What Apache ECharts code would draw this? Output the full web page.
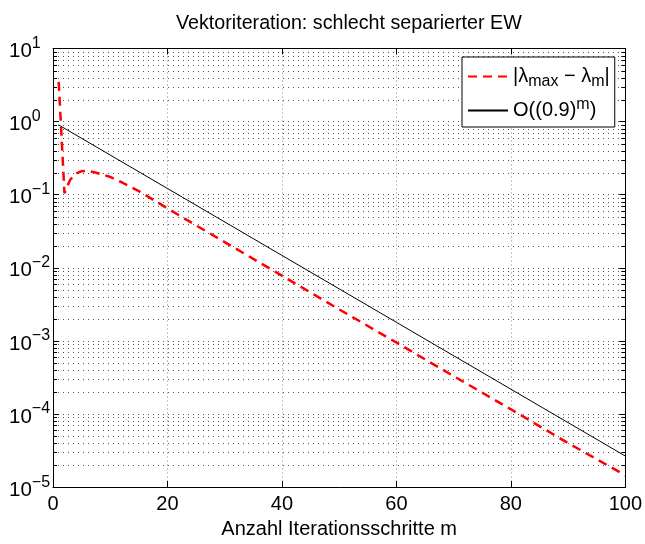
<!DOCTYPE html>
<html>
<head>
<meta charset="utf-8">
<script src="https://cdn.jsdelivr.net/npm/echarts@6/dist/echarts.min.js"></script>
<style>html,body{margin:0;padding:0;background:#fff;}#c{width:645px;height:544px;}</style>
</head>
<body>
<div id="c"></div>
<script>
// ---- data ----
const errM   = [1, 2, 3, 4, 5, 6, 7, 8, 9, 10, 12, 15, 20, 25, 30, 40, 50, 60, 70, 80, 90, 100];
const errVal = [3.5, 0.105, 0.16, 0.195, 0.21, 0.213, 0.205, 0.195, 0.185, 0.175, 0.148, 0.112,
                0.065, 0.038, 0.0225, 0.0078, 0.0027, 0.00095, 0.00033, 0.000116, 0.00004, 0.0000145];
const rateM   = [1, 20, 40, 60, 80, 100];
const rateVal = [0.9, 0.1216, 0.01478, 0.001797, 0.0002185, 0.0000266];
const xTicks = [0, 20, 40, 60, 80, 100];
const yDecades = [-5, -4, -3, -2, -1, 0, 1];
const minorMultipliers = [2, 3, 4, 5, 6, 7, 8, 9];
const seriesNames = ['|λmax − λm|', 'O((0.9)^m)'];

const FONT = 'Liberation Sans, Arial, Helvetica, sans-serif';
const errData = errM.map((m, i) => [m, errVal[i]]);
const rateData = rateM.map((m, i) => [m, rateVal[i]]);
const minorData = [];
yDecades.slice(0, -1).forEach(d => minorMultipliers.forEach(k => minorData.push([0, k * Math.pow(10, d)])));

const chart = echarts.init(document.getElementById('c'), null, {renderer: 'canvas'});

const axisCommonX = {
  type: 'value', min: xTicks[0], max: xTicks[xTicks.length - 1], interval: 20,
  axisLine: {show: true, onZero: false, lineStyle: {color: '#000', width: 1}},
  axisTick: {show: true, inside: true, length: 6, lineStyle: {color: '#000'}}
};
const axisCommonY = {
  type: 'log', logBase: 10, min: 1e-5, max: 10, interval: 1,
  axisLine: {show: true, onZero: false, lineStyle: {color: '#000', width: 1}},
  axisTick: {show: true, inside: true, length: 6, lineStyle: {color: '#000'}},
  minorTick: {show: false}
};

function sup(s) { return s.replace('-', '−'); }

chart.setOption({
  animation: false,
  backgroundColor: '#fff',
  title: {
    text: 'Vektoriteration: schlecht separierter EW',
    left: 171, top: 9,
    textStyle: {fontFamily: FONT, fontSize: 19.7, fontWeight: 'normal', color: '#000'}
  },
  grid: {left: 53, right: 14, top: 48.5, bottom: 44, containLabel: false},
  legend: {
    orient: 'vertical', left: 462, top: 57,
    data: seriesNames,
    itemWidth: 40, itemHeight: 14, itemGap: 7,
    padding: [6, 5, 3, 5],
    borderColor: '#000', borderWidth: 1, backgroundColor: '#fff',
    selectedMode: false,
    itemStyle: {opacity: 0},
    textStyle: {
      fontFamily: FONT, fontSize: 20, color: '#000',
      rich: {
        b: {fontFamily: FONT, fontSize: 20, lineHeight: 22, color: '#000'},
        sub: {fontFamily: FONT, fontSize: 16, lineHeight: 18, padding: [11, 0, 0, 0], color: '#000'},
        sup: {fontFamily: FONT, fontSize: 16, lineHeight: 18, padding: [0, 0, 11, 0], color: '#000'}
      }
    },
    formatter: function (name) {
      if (name === seriesNames[0]) return '{b||λ}{sub|max}{b| − λ}{sub|m}{b||}';
      return '{b|O((0.9)}{sup|m}{b|)}';
    }
  },
  xAxis: [
    Object.assign({}, axisCommonX, {
      position: 'bottom',
      axisLabel: {show: true, fontFamily: FONT, fontSize: 20, color: '#000', margin: 7},
      splitLine: {show: true, lineStyle: {color: '#888', width: 1, type: [1, 3]}},
      name: 'Anzahl Iterationsschritte m', nameLocation: 'middle', nameGap: 26,
      nameTextStyle: {fontFamily: FONT, fontSize: 20, color: '#000'}
    }),
    Object.assign({}, axisCommonX, {
      position: 'top', axisLabel: {show: false}, splitLine: {show: false}
    })
  ],
  yAxis: [
    Object.assign({}, axisCommonY, {
      position: 'left',
      axisLabel: {
        show: true, align: 'left', margin: 44, color: '#000',
        fontFamily: FONT, fontSize: 20,
        formatter: function (v) {
          const e = Math.round(Math.log10(v));
          return '{b|10}{s|' + sup(String(e)) + '}';
        },
        rich: {
          b: {fontFamily: FONT, fontSize: 20.5, lineHeight: 22, padding: [6, 0, 0, 0], color: '#000'},
          s: {fontFamily: FONT, fontSize: 16, lineHeight: 17, padding: [0, 0, 10, 0], color: '#000'}
        }
      },
      splitLine: {show: true, lineStyle: {color: '#555', width: 1, type: [1, 4]}}
    }),
    Object.assign({}, axisCommonY, {
      position: 'right', axisLabel: {show: false}, splitLine: {show: false}
    })
  ],
  series: [
    {
      name: 'minorGrid', type: 'custom', xAxisIndex: 0, yAxisIndex: 0,
      data: minorData, silent: true, z: 1,
      renderItem: function (params, api) {
        const v = api.value(1);
        const p0 = api.coord([xTicks[0], v]);
        const p1 = api.coord([xTicks[xTicks.length - 1], v]);
        const y = Math.round(p0[1]) + 0.5;
        return {
          type: 'group',
          children: [
            {type: 'line', shape: {x1: p0[0], y1: y, x2: p1[0], y2: y},
             style: {stroke: '#555', lineWidth: 1, lineDash: [1, 4]}},
            {type: 'line', shape: {x1: p0[0], y1: y, x2: p0[0] + 4, y2: y},
             style: {stroke: '#000', lineWidth: 1}},
            {type: 'line', shape: {x1: p1[0] - 4, y1: y, x2: p1[0], y2: y},
             style: {stroke: '#000', lineWidth: 1}}
          ]
        };
      }
    },
    {
      name: seriesNames[0], type: 'line', data: errData,
      symbol: 'none', showSymbol: false, z: 3,
      lineStyle: {color: '#ff0000', width: 2.5, type: [9, 6]},
      itemStyle: {color: '#ff0000'}
    },
    {
      name: seriesNames[1], type: 'line', data: rateData,
      symbol: 'none', showSymbol: false, z: 4,
      lineStyle: {color: '#000', width: 1, type: 'solid'},
      itemStyle: {color: '#000'}
    }
  ]
});
</script>
</body>
</html>
